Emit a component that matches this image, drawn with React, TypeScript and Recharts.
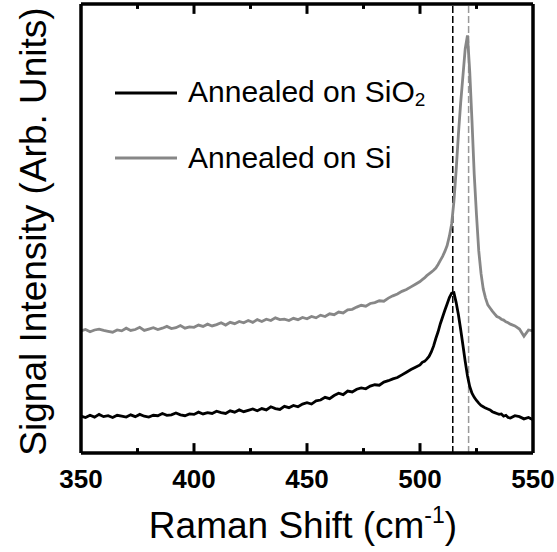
import { LineChart, Line, XAxis, YAxis, ReferenceLine, Legend } from "recharts";

// Raman shift in cm^-1 (finer spacing across the Si peak)
const shift = [
  350, 352, 354, 356, 358, 360, 362, 364, 366, 368, 370, 372, 374, 376, 378, 380, 382, 384, 386, 388,
  390, 392, 394, 396, 398, 400, 402, 404, 406, 408, 410, 412, 414, 416, 418, 420, 422, 424, 426, 428,
  430, 432, 434, 436, 438, 440, 442, 444, 446, 448, 450, 452, 454, 456, 458, 460, 462, 464, 466, 468,
  470, 472, 474, 476, 478, 480, 482, 484, 486, 488, 490, 492, 494, 496, 498,
  500, 501, 502, 503, 504, 505, 506, 507, 508, 509, 510, 511, 512, 513, 514, 515, 516, 517, 518, 519,
  520, 521, 522, 523, 524, 525, 526, 527, 528, 529, 530, 531, 532, 533, 534, 535, 536, 537, 538, 539,
  540, 542, 544, 546, 548, 550,
];

// annealed on SiO2 (offset baseline, lower trace)
const onSiO2 = [
  8.2, 7.9, 8.4, 8.0, 8.6, 8.1, 8.3, 7.9, 8.4, 8.2, 8.0, 8.5, 8.1, 8.6, 8.2, 8.0, 8.4, 8.3, 8.8, 8.4,
  8.5, 8.9, 8.5, 8.3, 8.7, 8.6, 9.1, 8.7, 9.0, 8.8, 9.3, 9.0, 8.8, 9.4, 9.1, 9.6, 9.2, 9.5, 9.8, 9.4,
  9.9, 9.6, 10.3, 9.9, 9.7, 10.4, 10.1, 10.6, 10.3, 10.9, 11.2, 10.9, 11.6, 11.8, 12.4, 12.1, 12.8, 13.3, 13.0, 13.8,
  13.6, 14.2, 14.5, 14.3, 14.9, 15.2, 15.1, 15.8, 16.1, 16.5, 16.8, 17.4, 18.0, 18.6, 19.1,
  19.6, 20.2, 20.4, 20.9, 21.5, 22.5, 23.8, 25.5, 27.0, 28.8, 30.3, 31.8, 33.2, 34.6, 35.6, 35.7, 33.5, 30.8, 27.5, 24.0,
  20.4, 17.2, 14.8, 13.3, 12.4, 11.7, 11.1, 10.6, 10.3, 10.0, 9.8, 9.6, 9.2, 9.0, 8.8, 8.6, 8.7, 8.2, 8.4, 7.9,
  7.8, 8.3, 8.1, 7.6, 7.9, 7.4,
];

// annealed on Si (upper trace)
const onSi = [
  27.2, 27.5, 27.0, 27.4, 27.6, 27.3, 27.1, 26.9, 27.4, 27.2, 27.8, 27.3, 27.5, 28.0, 27.3, 27.6, 27.9, 27.5, 27.8, 28.2,
  27.7, 27.9, 28.4, 27.8, 28.1, 28.0, 28.5, 28.2, 28.7, 28.3, 28.6, 29.0, 28.5, 29.1, 28.8, 29.3, 29.0, 29.5, 29.1, 29.7,
  29.3, 29.8, 29.5, 30.1, 29.7, 29.8, 29.5, 30.0, 29.7, 30.2, 29.9, 30.4, 30.1, 30.7, 30.4, 31.0, 30.8, 31.4, 31.2, 31.9,
  32.0, 32.5, 32.9, 32.7, 33.3, 33.5, 33.9, 33.8, 34.5, 35.0, 35.4, 36.0, 36.4, 37.0, 37.6,
  38.2, 38.6, 39.0, 39.5, 39.9, 40.3, 40.7, 41.2, 42.0, 42.9, 43.8, 44.9, 46.2, 48.3, 51.0, 56.0, 63.0, 71.0, 78.0, 84.0,
  90.0, 93.0, 85.0, 74.0, 62.0, 53.0, 45.0, 40.0, 36.5, 34.5, 33.0, 32.3, 31.6, 31.0, 30.4, 30.2, 29.8, 29.6, 29.2, 29.0,
  28.7, 28.3, 27.6, 26.0, 27.4, 27.2,
];

const majorTicks = [350, 400, 450, 500, 550];
const innerMajor = [400, 450, 500];
const minorTicks = [375, 425, 475, 525];

const peakSiO2 = 514.5;
const peakSi = 521.5;

const GRAY = "#878787";
const FONT = "Arial, 'Liberation Sans', Helvetica, sans-serif";

// inward tick lengths in y units (domain 0-100 spans ~449px)
const MAJOR_LEN = 2.2;
const MINOR_LEN = 1.1;

const data = shift.map((s, i) => ({ shift: s, sio2: onSiO2[i], si: onSi[i] }));

const tickMarks = [
  ...innerMajor.map((v) => ({ v, len: MAJOR_LEN })),
  ...minorTicks.map((v) => ({ v, len: MINOR_LEN })),
];

const frameLine = { stroke: "#000", strokeWidth: 3.5 };

function BottomLabel(props: any) {
  const { x, y, payload } = props;
  return (
    <text x={x} y={y + 35} textAnchor="middle" fontFamily={FONT} fontWeight="bold" fontSize={26} fill="#000">
      {payload.value}
    </text>
  );
}

function LegendBox() {
  const rows = [
    { color: "#000", label: <>Annealed on SiO<span style={{ fontSize: 19, verticalAlign: "-4px" }}>2</span></> },
    { color: GRAY, label: <>Annealed on Si</> },
  ];
  return (
    <div style={{ fontFamily: FONT, fontSize: 30, color: "#000" }}>
      {rows.map((r, i) => (
        <div key={i} style={{ height: 65, display: "flex", alignItems: "center", whiteSpace: "nowrap" }}>
          <svg width={62} height={6} style={{ marginRight: 11 }}>
            <line x1={0} y1={3} x2={62} y2={3} stroke={r.color} strokeWidth={3} />
          </svg>
          <span>{r.label}</span>
        </div>
      ))}
    </div>
  );
}

export default function App() {
  return (
    <div style={{ position: "absolute", left: 0, top: 0, background: "#fff" }}>
      <LineChart width={557} height={552} data={data} margin={{ top: 3, right: 23, bottom: 0, left: 0 }}>
        <XAxis
          xAxisId="main"
          dataKey="shift"
          type="number"
          domain={[350, 550]}
          ticks={majorTicks}
          interval={0}
          height={99}
          axisLine={frameLine}
          tickLine={false}
          tickSize={0}
          tickMargin={0}
          tick={BottomLabel}
          label={{
            content: (p: any) => {
              const vb = p.viewBox;
              return (
                <text x={vb.x + vb.width / 2 - 4} y={vb.y + 85} textAnchor="middle" fontFamily={FONT} fontSize={37} fill="#000">
                  Raman Shift (cm
                  <tspan fontSize={23} dy={-15}>-1</tspan>
                  <tspan dy={15}>)</tspan>
                </text>
              );
            },
          }}
        />
        <XAxis
          xAxisId="frameTop"
          orientation="top"
          dataKey="shift"
          type="number"
          domain={[350, 550]}
          height={1}
          axisLine={frameLine}
          tickLine={false}
          tick={false}
        />
        <YAxis
          type="number"
          domain={[0, 100]}
          width={81}
          axisLine={frameLine}
          tickLine={false}
          tick={false}
          label={{
            content: (p: any) => {
              const vb = p.viewBox;
              const cx = 46;
              const cy = vb.y + vb.height / 2 + 3;
              return (
                <text
                  x={cx}
                  y={cy}
                  transform={`rotate(-90 ${cx} ${cy})`}
                  textAnchor="middle"
                  fontFamily={FONT}
                  fontSize={37}
                  fill="#000"
                >
                  Signal Intensity (Arb. Units)
                </text>
              );
            },
          }}
        />
        <YAxis
          yAxisId="frameRight"
          orientation="right"
          type="number"
          domain={[0, 100]}
          width={1}
          axisLine={frameLine}
          tickLine={false}
          tick={false}
        />
        <Legend
          layout="horizontal"
          verticalAlign="middle"
          align="center"
          content={() => <LegendBox />}
          wrapperStyle={{ position: "absolute", left: 115, top: 60, width: 360 }}
        />
        {/* inward tick marks along the bottom and top edges */}
        {tickMarks.map((t) => (
          <ReferenceLine
            key={`b${t.v}`}
            xAxisId="main"
            segment={[{ x: t.v, y: 0 }, { x: t.v, y: t.len }]}
            stroke="#000"
            strokeWidth={3}
            ifOverflow="visible"
          />
        ))}
        {tickMarks.map((t) => (
          <ReferenceLine
            key={`t${t.v}`}
            xAxisId="main"
            segment={[{ x: t.v, y: 100 }, { x: t.v, y: 100 - t.len }]}
            stroke="#000"
            strokeWidth={3}
            ifOverflow="visible"
          />
        ))}
        <ReferenceLine xAxisId="main" x={peakSiO2} stroke="#000" strokeWidth={1.5} strokeDasharray="7 3" ifOverflow="visible" />
        <ReferenceLine xAxisId="main" x={peakSi} stroke="#999" strokeWidth={1.5} strokeDasharray="7 3" ifOverflow="visible" />
        <Line xAxisId="main" dataKey="si" stroke={GRAY} strokeWidth={2.8} dot={false} isAnimationActive={false} />
        <Line xAxisId="main" dataKey="sio2" stroke="#000" strokeWidth={2.8} dot={false} isAnimationActive={false} />
      </LineChart>
    </div>
  );
}
